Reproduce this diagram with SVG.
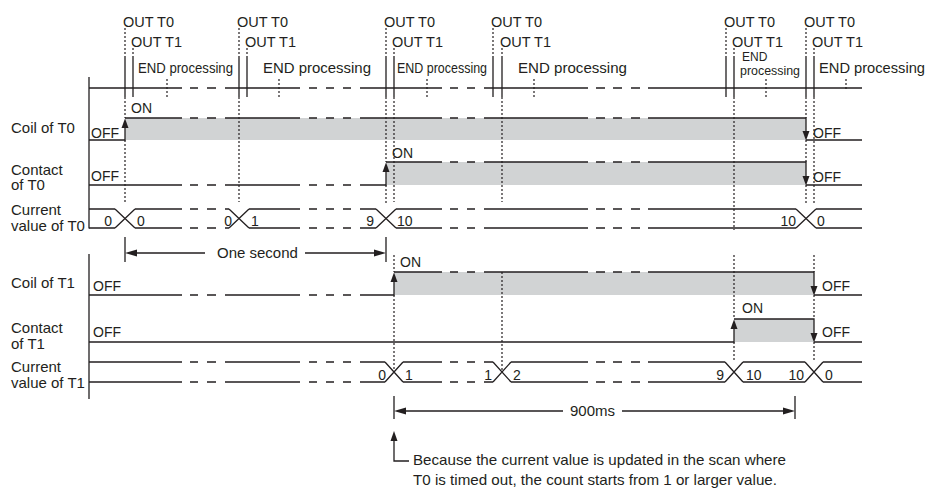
<svg xmlns="http://www.w3.org/2000/svg" width="931" height="489" viewBox="0 0 931 489">
<style>
.ln{stroke:#231f20;stroke-width:1.3;fill:none}
.dt{stroke:#231f20;stroke-width:1.2;stroke-dasharray:2 2;fill:none}
.gr{fill:#d1d3d4}
.ah{fill:#231f20}
text{font-family:"Liberation Sans",Arial,sans-serif;fill:#231f20}
.t{font-size:14.5px}
.l{font-size:15px}
.s{font-size:14px}
.e{font-size:12px}
</style>
<rect width="931" height="489" fill="#ffffff"/>

<g id="fills">
<rect class="gr" x="125" y="118" width="681" height="22"/>
<rect class="gr" x="386" y="162" width="420" height="23"/>
<rect class="gr" x="394" y="272" width="420" height="23"/>
<rect class="gr" x="734" y="319" width="80" height="23"/>
</g>

<g id="scan">
<path class="ln" d="M89 77V228.5M89 254V399"/>
<path class="ln" d="M89 88H182M190 88H198M207 88H216M225 88H300M309 88H317M326 88H334M343 88H351M360 88H442M450 88H458M467 88H475M484 88H588M596 88H605M613 88H622M631 88H640M648 88H862"/>
<path class="ln" d="M125 56V97M133 56V97M239 56V97M247 56V97M386 56V97M394 56V97M493 56V97M502 56V97M726 56V97M734 56V97M806 56V97M814 56V97"/>
<path class="dt" d="M167 79V97M279 79V97M427 79V97M534 79V97M766 79V97M846 79V89"/>
<text class="t" x="123" y="27">OUT T0</text>
<text class="t" x="131" y="47">OUT T1</text>
<text class="t" x="237" y="27">OUT T0</text>
<text class="t" x="245" y="47">OUT T1</text>
<text class="t" x="384" y="27">OUT T0</text>
<text class="t" x="392" y="47">OUT T1</text>
<text class="t" x="491" y="27">OUT T0</text>
<text class="t" x="500" y="47">OUT T1</text>
<text class="t" x="724" y="27">OUT T0</text>
<text class="t" x="732" y="47">OUT T1</text>
<text class="t" x="804" y="27">OUT T0</text>
<text class="t" x="812" y="47">OUT T1</text>
<text class="t" x="138" y="73" textLength="95" lengthAdjust="spacingAndGlyphs">END processing</text>
<text class="t" x="263" y="73" textLength="108" lengthAdjust="spacingAndGlyphs">END processing</text>
<text class="t" x="397" y="73" textLength="90" lengthAdjust="spacingAndGlyphs">END processing</text>
<text class="t" x="518" y="73" textLength="109" lengthAdjust="spacingAndGlyphs">END processing</text>
<text class="e" x="742" y="60.5">END</text>
<text class="e" x="740" y="74.5" textLength="60" lengthAdjust="spacingAndGlyphs">processing</text>
<text class="t" x="819" y="73" textLength="106" lengthAdjust="spacingAndGlyphs">END processing</text>
</g>

<g id="guides">
<path class="dt" d="M125 28V56M125 97V118M125 140V202"/>
<path class="dt" d="M133 48V56"/>
<path class="dt" d="M239 28V56M239 97V202"/>
<path class="dt" d="M247 48V56"/>
<path class="dt" d="M386 28V56M386 97V162M386 185V204"/>
<path class="dt" d="M394 48V56M394 97V202M394 255V272M394 295V372"/>
<path class="dt" d="M493 28V56"/>
<path class="dt" d="M502 48V56M502 97V202M502 272V372"/>
<path class="dt" d="M726 28V56"/>
<path class="dt" d="M734 48V56M734 97V230M734 255V319M734 342V360"/>
<path class="dt" d="M806 28V56M806 97V118M806 140V162M806 185V205"/>
<path class="dt" d="M814 48V56M814 97V205M814 255V272M814 295V319M814 342V360"/>
</g>

<g id="coil-t0">
<text class="l" x="11" y="133">Coil of T0</text>
<path class="ln" d="M89 140H125V127M125 118H182M190 118H198M207 118H216M225 118H300M309 118H317M326 118H334M343 118H351M360 118H442M450 118H458M467 118H475M484 118H588M596 118H605M613 118H622M631 118H640M648 118H806V132M806 140H862"/>
<polygon class="ah" points="125,118.5 121.5,128 128.5,128"/>
<polygon class="ah" points="806,140.5 802.5,131 809.5,131"/>
<text class="s" x="91" y="137.5">OFF</text>
<text class="s" x="131" y="113">ON</text>
<text class="s" x="813" y="137.5">OFF</text>
</g>

<g id="contact-t0">
<text class="l" x="11" y="174.5">Contact</text>
<text class="l" x="11" y="190">of T0</text>
<path class="ln" d="M89 185H182M190 185H198M207 185H216M225 185H300M309 185H317M326 185H334M343 185H351M360 185H386V171M386 162H442M450 162H458M467 162H475M484 162H588M596 162H605M613 162H622M631 162H640M648 162H806V176M806 185H862"/>
<polygon class="ah" points="386,162.5 382.5,172 389.5,172"/>
<polygon class="ah" points="806,185.5 802.5,176 809.5,176"/>
<text class="s" x="91" y="181">OFF</text>
<text class="s" x="392" y="158">ON</text>
<text class="s" x="813" y="182">OFF</text>
</g>

<g id="value-t0">
<text class="l" x="11" y="214.5">Current</text>
<text class="l" x="11" y="230.5">value of T0</text>
<path class="ln" d="M89 209H115M135 209H182M190 209H198M207 209H216M225 209H229M249 209H300M309 209H317M326 209H334M343 209H351M360 209H376M396 209H442M450 209H458M467 209H475M484 209H588M596 209H605M613 209H622M631 209H640M648 209H796M816 209H862"/>
<path class="ln" d="M89 228H115M135 228H182M190 228H198M207 228H216M225 228H229M249 228H300M309 228H317M326 228H334M343 228H351M360 228H376M396 228H442M450 228H458M467 228H475M484 228H588M596 228H605M613 228H622M631 228H640M648 228H796M816 228H862"/>
<path class="ln" d="M115 209L135 228M115 228L135 209M229 209L249 228M229 228L249 209M376 209L396 228M376 228L396 209M796 209L816 228M796 228L816 209"/>
<text class="s" x="112" y="226" text-anchor="end">0</text>
<text class="s" x="137" y="226">0</text>
<text class="s" x="232" y="226" text-anchor="end">0</text>
<text class="s" x="251" y="226">1</text>
<text class="s" x="374" y="226" text-anchor="end">9</text>
<text class="s" x="397" y="226">10</text>
<text class="s" x="796" y="226" text-anchor="end">10</text>
<text class="s" x="817" y="226">0</text>
</g>

<g id="coil-t1">
<text class="l" x="11" y="288">Coil of T1</text>
<path class="ln" d="M89 295H182M190 295H198M207 295H216M225 295H300M309 295H317M326 295H334M343 295H351M360 295H394V281M394 272H442M450 272H458M467 272H475M484 272H588M596 272H605M613 272H622M631 272H640M648 272H814V286M814 295H862"/>
<polygon class="ah" points="394,272.5 390.5,282 397.5,282"/>
<polygon class="ah" points="814,295.5 810.5,286 817.5,286"/>
<text class="s" x="93" y="291">OFF</text>
<text class="s" x="400" y="267">ON</text>
<text class="s" x="822" y="291">OFF</text>
</g>

<g id="contact-t1">
<text class="l" x="11" y="332.5">Contact</text>
<text class="l" x="11" y="348.5">of T1</text>
<path class="ln" d="M89 342H734V328M734 319H814V333M814 342H862"/>
<polygon class="ah" points="734,319.5 730.5,329 737.5,329"/>
<polygon class="ah" points="814,342.5 810.5,333 817.5,333"/>
<text class="s" x="93" y="337">OFF</text>
<text class="s" x="742" y="313">ON</text>
<text class="s" x="822" y="336.5">OFF</text>
</g>

<g id="value-t1">
<text class="l" x="11" y="372">Current</text>
<text class="l" x="11" y="387.5">value of T1</text>
<path class="ln" d="M89 362H182M190 362H198M207 362H216M225 362H300M309 362H317M326 362H334M343 362H351M360 362H385M403 362H442M450 362H458M467 362H475M484 362H493M511 362H588M596 362H605M613 362H622M631 362H640M648 362H725M743 362H805M823 362H862"/>
<path class="ln" d="M89 382H182M190 382H198M207 382H216M225 382H300M309 382H317M326 382H334M343 382H351M360 382H385M403 382H442M450 382H458M467 382H475M484 382H493M511 382H588M596 382H605M613 382H622M631 382H640M648 382H725M743 382H805M823 382H862"/>
<path class="ln" d="M385 362L403 382M385 382L403 362M493 362L511 382M493 382L511 362M725 362L743 382M725 382L743 362M805 362L823 382M805 382L823 362"/>
<text class="s" x="386" y="379.5" text-anchor="end">0</text>
<text class="s" x="405" y="379.5">1</text>
<text class="s" x="492" y="379.5" text-anchor="end">1</text>
<text class="s" x="513" y="379.5">2</text>
<text class="s" x="724" y="379.5" text-anchor="end">9</text>
<text class="s" x="746" y="379.5">10</text>
<text class="s" x="804" y="379.5" text-anchor="end">10</text>
<text class="s" x="825" y="379.5">0</text>
</g>

<g id="connectors">
<path class="ln" d="M125 237V262M386 237V262M137 253H205M305 253H374"/>
<polygon class="ah" points="125,253 137,249.5 137,256.5"/>
<polygon class="ah" points="386,253 374,249.5 374,256.5"/>
<text class="l" x="217" y="258">One second</text>
<path class="ln" d="M394 396V419M795 396V419M406 411H563M622 411H783"/>
<polygon class="ah" points="394,411 406,407.5 406,414.5"/>
<polygon class="ah" points="795,411 783,407.5 783,414.5"/>
<text class="l" x="570" y="416">900ms</text>
<path class="ln" d="M394 440V461H409"/>
<polygon class="ah" points="394,431 390.5,441 397.5,441"/>
<text class="l" x="413" y="465" textLength="373" lengthAdjust="spacingAndGlyphs">Because the current value is updated in the scan where</text>
<text class="l" x="413" y="485" textLength="364" lengthAdjust="spacingAndGlyphs">T0 is timed out, the count starts from 1 or larger value.</text>
</g>
</svg>
